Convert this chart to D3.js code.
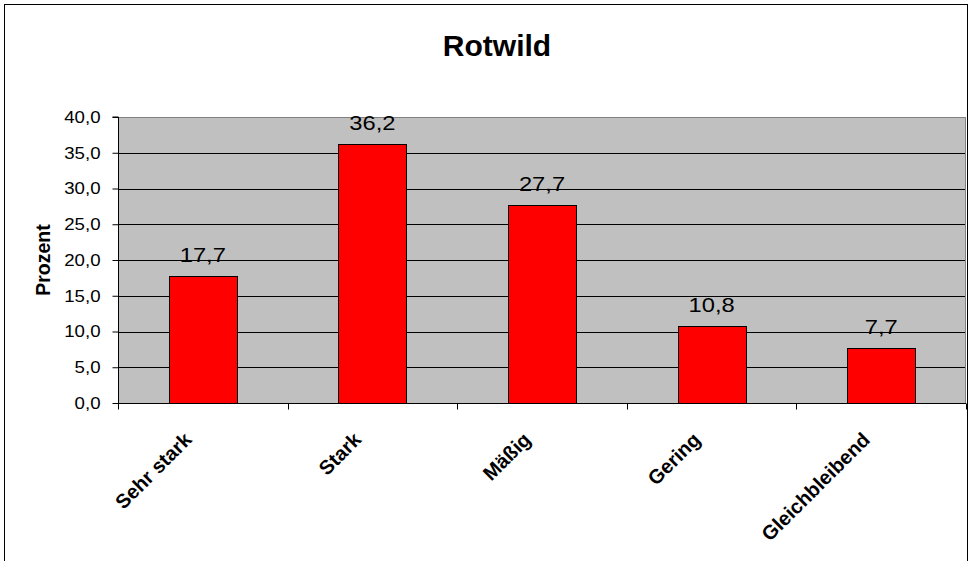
<!DOCTYPE html>
<html>
<head>
<meta charset="utf-8">
<script src="https://cdn.jsdelivr.net/npm/d3@7"></script>
<style>
  html, body { margin: 0; padding: 0; background: #fff; }
  svg { display: block; }
  text { font-family: Arial, "Liberation Sans", sans-serif; fill: #000; }
</style>
</head>
<body>
<svg id="chart" width="969" height="561"></svg>
<script>
// Chart data
const title = "Rotwild";
const yAxisTitle = "Prozent";
const categories = ["Sehr stark", "Stark", "Mäßig", "Gering", "Gleichbleibend"];
const values = [17.7, 36.2, 27.7, 10.8, 7.7];
const yTicks = [0, 5, 10, 15, 20, 25, 30, 35, 40];

const svg = d3.select("#chart");
const stretch = 1.13; // numeric labels are drawn slightly wide

// outer chart frame
svg.append("rect")
  .attr("x", 4.5).attr("y", 4.5)
  .attr("width", 963).attr("height", 700)
  .attr("fill", "#fff").attr("stroke", "#000").attr("stroke-width", 1);

const plot = { left: 118, right: 966, top: 117, bottom: 403 };

const x = d3.scaleBand().domain(categories).range([plot.left, plot.right]).padding(0);
const y = d3.scaleLinear().domain([0, 40]).range([plot.bottom, plot.top]);
const fmt = v => d3.format(".1f")(v).replace(".", ",");

// plot background
svg.append("rect")
  .attr("x", plot.left).attr("y", plot.top)
  .attr("width", plot.right - plot.left).attr("height", plot.bottom - plot.top)
  .attr("fill", "#c0c0c0");

// gridlines
svg.append("g").selectAll("line")
  .data(yTicks.filter(t => t > 0 && t < 40))
  .join("line")
  .attr("x1", plot.left).attr("x2", plot.right)
  .attr("y1", d => Math.round(y(d)) + 0.5).attr("y2", d => Math.round(y(d)) + 0.5)
  .attr("stroke", "#000").attr("stroke-width", 1);

// plot area border (top and right in gray)
svg.append("path")
  .attr("d", `M${plot.left},${plot.top + 0.5}H${plot.right - 0.5}V${plot.bottom}`)
  .attr("fill", "none").attr("stroke", "#808080").attr("stroke-width", 1);

// bars
const barW = x.bandwidth() * 0.4;
svg.append("g").selectAll("rect")
  .data(values)
  .join("rect")
  .attr("x", (d, i) => Math.round(x(categories[i]) + (x.bandwidth() - barW) / 2) + 0.5)
  .attr("y", d => Math.round(y(d)) + 0.5)
  .attr("width", Math.round(barW))
  .attr("height", d => Math.round(y(0)) - Math.round(y(d)))
  .attr("fill", "#ff0000").attr("stroke", "#000").attr("stroke-width", 1);

// value labels
svg.append("g").selectAll("text")
  .data(values)
  .join("text")
  .attr("transform", (d, i) =>
    `translate(${x(categories[i]) + x.bandwidth() / 2},${y(d) - 14}) scale(${stretch},1)`)
  .attr("text-anchor", "middle")
  .attr("font-size", 21)
  .text(d => fmt(d));

// y axis
const yAxis = d3.axisLeft(y).tickValues(yTicks).tickSize(6).tickPadding(8).tickFormat(fmt);
const gy = svg.append("g").attr("transform", `translate(${plot.left + 0.5},0)`).call(yAxis);
gy.select(".domain").attr("stroke", "#000").attr("d", `M-6,${plot.top}H0V${plot.bottom}`);
gy.selectAll(".tick line").attr("stroke", "#000");
gy.selectAll(".tick text")
  .attr("x", 0)
  .attr("transform", `translate(-18,0) scale(${stretch},1)`)
  .attr("font-size", 16.5)
  .attr("font-family", "Arial, 'Liberation Sans', sans-serif")
  .attr("fill", "#000");

// x axis: ticks on the category boundaries
const gx = svg.append("g").attr("transform", `translate(0,${plot.bottom + 0.5})`);
gx.append("line")
  .attr("x1", plot.left).attr("x2", plot.right)
  .attr("stroke", "#000");
const bounds = categories.map(c => x(c)).concat([plot.right]);
gx.selectAll("line.tk")
  .data(bounds)
  .join("line").attr("class", "tk")
  .attr("x1", d => Math.round(d) + 0.5).attr("x2", d => Math.round(d) + 0.5)
  .attr("y1", 0).attr("y2", 6)
  .attr("stroke", "#000");

// rotated category labels
svg.append("g").selectAll("text")
  .data(categories)
  .join("text")
  .attr("transform", d => `translate(${x(d) + x.bandwidth() / 2 - 10},441) rotate(-45)`)
  .attr("text-anchor", "end")
  .attr("font-size", 20)
  .attr("font-weight", "bold")
  .text(d => d);

// y axis title
svg.append("text")
  .attr("transform", `translate(50,${(plot.top + plot.bottom) / 2}) rotate(-90)`)
  .attr("text-anchor", "middle")
  .attr("font-size", 19.5)
  .attr("font-weight", "bold")
  .text(yAxisTitle);

// chart title
svg.append("text")
  .attr("x", 497).attr("y", 56)
  .attr("text-anchor", "middle")
  .attr("font-size", 30)
  .attr("font-weight", "bold")
  .text(title);
</script>
</body>
</html>
